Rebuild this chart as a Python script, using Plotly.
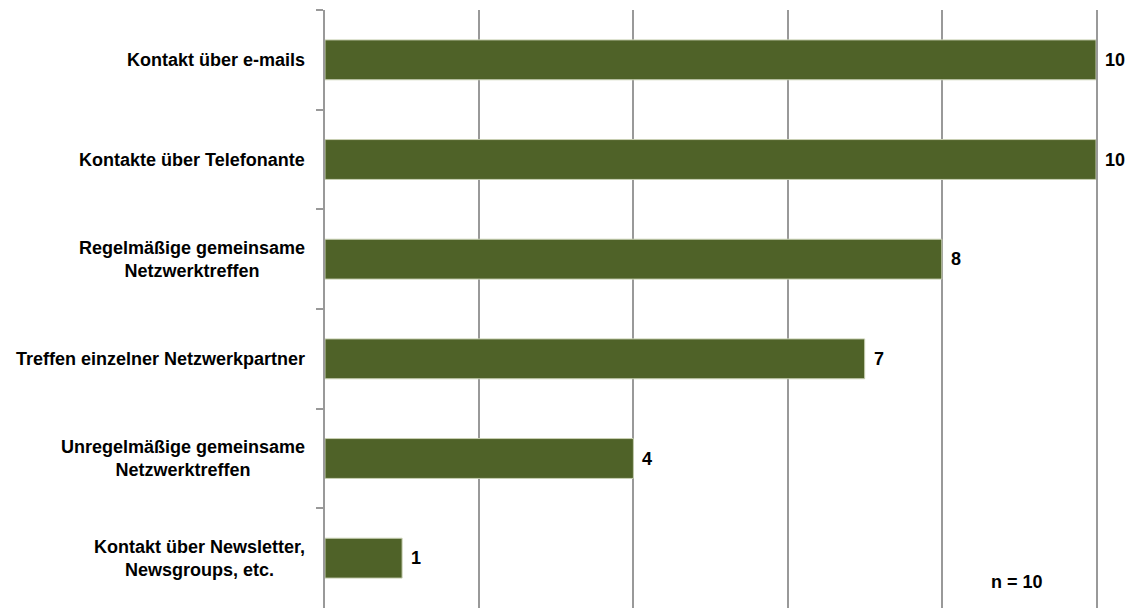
import plotly.graph_objects as go

categories = [
    "Kontakt über e-mails",
    "Kontakte über Telefonante",
    "Regelmäßige gemeinsame<br>Netzwerktreffen",
    "Treffen einzelner Netzwerkpartner",
    "Unregelmäßige gemeinsame<br>Netzwerktreffen",
    "Kontakt über Newsletter,<br>Newsgroups, etc.",
]
values = [10, 10, 8, 7, 4, 1]
x_ticks = [0, 2, 4, 6, 8, 10]
note = "n = 10"

FONT = "Liberation Sans, Arial, sans-serif"
BAR = "#4F6228"
GRID = "#999999"

fig = go.Figure()
fig.add_trace(go.Bar(
    y=categories, x=values, orientation="h",
    marker=dict(color=BAR, line=dict(color="#c9d1b4", width=1)),
    width=0.4, hoverinfo="skip",
))

annotations = []
for c, v in zip(categories, values):
    annotations.append(dict(
        x=0, xref="paper", y=c, yref="y", text=f"<b>{c}</b>",
        xanchor="right", xshift=-18, align="center", showarrow=False,
        font=dict(family=FONT, size=18, color="#000000"),
    ))
    annotations.append(dict(
        x=v, xref="x", y=c, yref="y", text=f"<b>{v}</b>",
        xanchor="left", xshift=7, showarrow=False,
        font=dict(family=FONT, size=18, color="#000000"),
    ))
annotations.append(dict(
    x=0.898, xref="paper", y=0.043, yref="paper", text=f"<b>{note}</b>",
    xanchor="center", yanchor="middle", showarrow=False,
    font=dict(family=FONT, size=18, color="#000000"),
))

fig.update_layout(
    width=1125, height=600,
    margin=dict(l=317, r=37, t=2, b=0),
    paper_bgcolor="white", plot_bgcolor="white",
    showlegend=False,
    annotations=annotations,
    xaxis=dict(range=[0, 10], tickvals=x_ticks, showticklabels=False,
               showgrid=True, gridcolor=GRID, gridwidth=2, zeroline=False,
               showline=False, ticks=""),
    yaxis=dict(type="category", autorange="reversed", showticklabels=False,
               tickson="boundaries", ticks="outside", ticklen=7, tickwidth=2,
               tickcolor=GRID, showline=True, mirror=True, linecolor=GRID,
               linewidth=2, showgrid=False, zeroline=False),
)

fig.write_html("out.html")
